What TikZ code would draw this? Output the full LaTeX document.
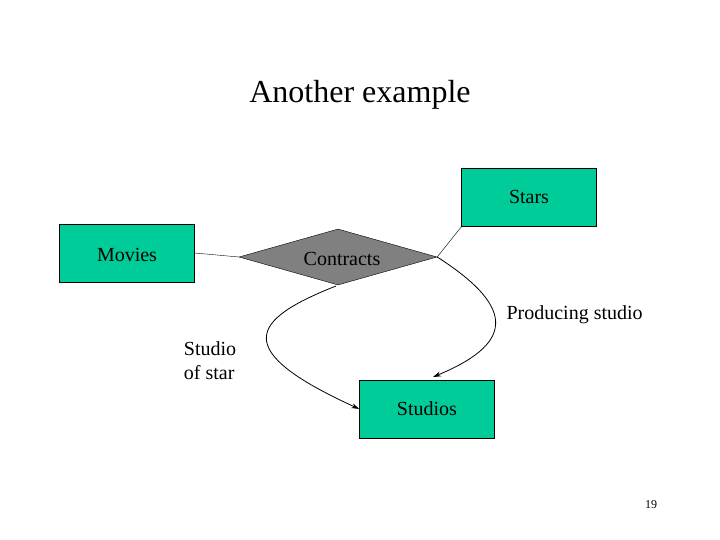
\documentclass[tikz,border=0pt]{standalone}
\usepackage{fontspec}
\setmainfont{Liberation Serif}
\usetikzlibrary{shapes.geometric,arrows.meta}
\definecolor{teal1}{RGB}{0,204,153}
\begin{document}
\begin{tikzpicture}[x=1pt,y=-1pt,
  ent/.style={draw=black,fill=teal1,minimum width=135pt,minimum height=58pt,inner sep=0pt,font=\fontsize{20}{24}\selectfont},
  rel/.style={draw=black,fill=gray,diamond,aspect=3.5,minimum width=198pt,minimum height=56pt,inner sep=0pt,font=\fontsize{20}{24}\selectfont},
  lab/.style={font=\fontsize{20}{24}\selectfont},
  arr/.style={thick,-{Stealth[length=8pt,width=5pt]}}]
\useasboundingbox (0,0) rectangle (720,540);
\node[font=\fontsize{32}{38}\selectfont] (title) at (360,95) {Another example};
\node[ent] (stars) at (529,197) {Stars};
\node[ent] (movies) at (127,253) {};
\node[lab] (mt) at (127,255) {Movies};
\node[rel] (con) at (338,257) {};
\node[lab] (ct) at (342,259) {Contracts};
\node[ent] (studios) at (427,409) {Studios};
\coordinate (sb) at (462,226);
\draw (movies.east) -- (con.west);
\draw (con.east) -- (sb);
\coordinate (a1) at (336,286);
\coordinate (a2) at (433,377);
\draw[arr] (a1) .. controls (250,320) and (230,350) .. (studios.west);
\draw[arr] (con.east) .. controls (520,310) and (510,345) .. (a2);
\node[lab,anchor=west] (ps) at (503,315) {Producing studio};
\node[lab,align=left] (ss) at (210,361) {Studio\\of star};
\node[font=\fontsize{12}{14}\selectfont] (pg) at (651,505) {19};
\end{tikzpicture}
\end{document}
